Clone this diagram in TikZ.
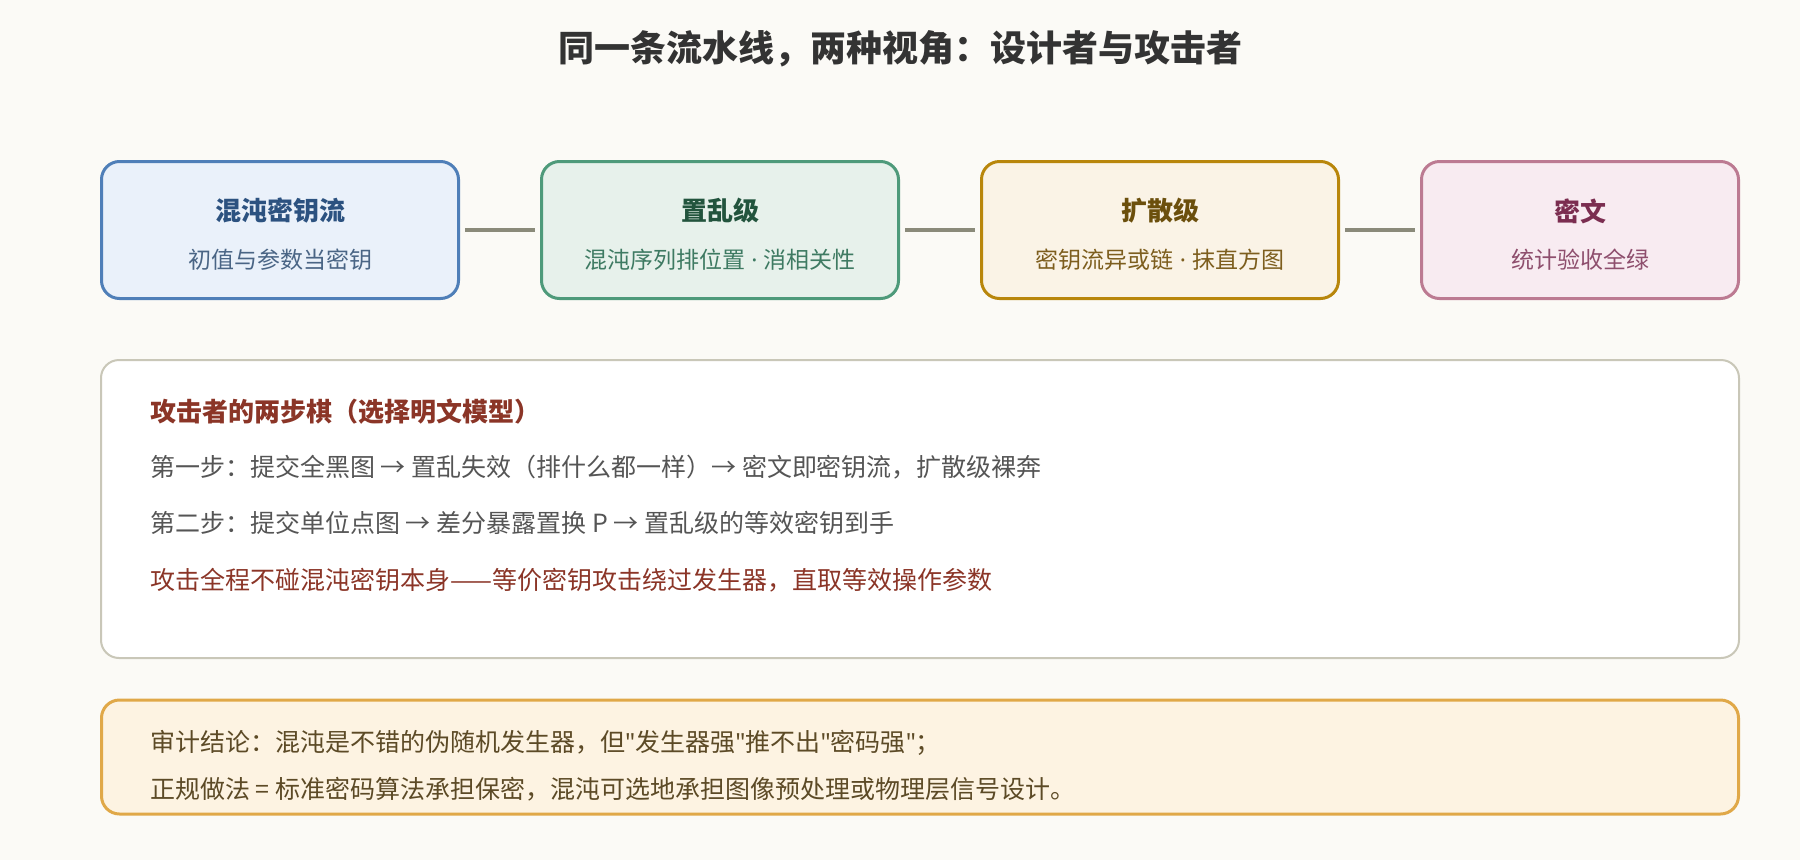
\documentclass[tikz,border=0pt]{standalone}
\usepackage{fontspec}
\setmainfont{Noto Sans CJK SC}[Ligatures=TeXOff]
\newfontfamily\latinfont{Noto Sans}[Ligatures=TeXOff]
\newcommand{\mdot}{{\latinfont\ ·\ }}
\definecolor{bg}{HTML}{FBFAF6}
\definecolor{titlegray}{HTML}{333333}
\definecolor{linkgray}{HTML}{8A8A7A}
\definecolor{keydraw}{HTML}{4F7FB8}
\definecolor{keyfill}{HTML}{EAF1FA}
\definecolor{keytitle}{HTML}{2C5280}
\definecolor{keysub}{HTML}{4A6585}
\definecolor{permdraw}{HTML}{4E9A7A}
\definecolor{permfill}{HTML}{E7F1EB}
\definecolor{permtitle}{HTML}{22543D}
\definecolor{permsub}{HTML}{3E7A62}
\definecolor{diffdraw}{HTML}{B8860B}
\definecolor{difffill}{HTML}{FAF3E6}
\definecolor{difftitle}{HTML}{6B4F0C}
\definecolor{diffsub}{HTML}{7D5E1E}
\definecolor{ciphdraw}{HTML}{BC7A92}
\definecolor{ciphfill}{HTML}{F8EBF1}
\definecolor{ciphtitle}{HTML}{7B2D50}
\definecolor{ciphsub}{HTML}{8E4E6D}
\definecolor{paneldraw}{HTML}{C9C7B8}
\definecolor{attackred}{HTML}{8B3527}
\definecolor{bodygray}{HTML}{555555}
\definecolor{notedraw}{HTML}{E0A848}
\definecolor{notefill}{HTML}{FDF3E2}
\definecolor{notetext}{HTML}{5C4A26}
\tikzset{
  stage/.style={draw, line width=3pt, rounded corners=18pt, minimum height=137pt, inner sep=0pt},
  stagetitle/.style={font=\fontsize{26}{30}\selectfont\bfseries, inner sep=0pt},
  stagesub/.style={font=\fontsize{23}{27}\selectfont, inner sep=0pt},
  link/.style={draw=linkgray, line width=4pt, shorten <=5pt, shorten >=5pt},
  panel/.style={draw, line width=2pt, rounded corners=18pt, inner sep=0pt},
  textline/.style={anchor=west, inner sep=0pt, font=\fontsize{25}{29}\selectfont},
}
\begin{document}
\begin{tikzpicture}[x=1pt, y=-1pt]
  \def\Yb{230} % boxes
  \def\Yt{211} % box titles
  \def\Ys{260} % box subtitles
  \def\Xl{150} % left edge of texts
  \fill[bg] (0,0) rectangle (1800,860);
  \useasboundingbox (0,0) rectangle (1800,860);

  % title
  \node[font=\fontsize{36}{40}\selectfont\bfseries, text=titlegray, inner sep=0pt] (title) at (900,49) {同一条流水线，两种视角：设计者与攻击者};

  % pipeline
  \node[stage, draw=keydraw, fill=keyfill, minimum width=357pt] (key) at (280,\Yb) {};
  \node[stage, draw=permdraw, fill=permfill, minimum width=357pt] (perm) at (720,\Yb) {};
  \node[stage, draw=diffdraw, fill=difffill, minimum width=357pt] (diff) at (1160,\Yb) {};
  \node[stage, draw=ciphdraw, fill=ciphfill, minimum width=317pt] (ciph) at (1580,\Yb) {};

  \node[stagetitle, text=keytitle] (keyT) at (280,\Yt) {混沌密钥流};
  \node[stagesub, text=keysub] (keyS) at (280,\Ys) {初值与参数当密钥};
  \node[stagetitle, text=permtitle] (permT) at (720,\Yt) {置乱级};
  \node[stagesub, text=permsub] (permS) at (720,\Ys) {混沌序列排位置\mdot 消相关性};
  \node[stagetitle, text=difftitle] (diffT) at (1160,\Yt) {扩散级};
  \node[stagesub, text=diffsub] (diffS) at (1160,\Ys) {密钥流异或链\mdot 抹直方图};
  \node[stagetitle, text=ciphtitle] (ciphT) at (1580,\Yt) {密文};
  \node[stagesub, text=ciphsub] (ciphS) at (1580,\Ys) {统计验收全绿};

  % links
  \draw[link] (key) -- (perm);
  \draw[link] (perm) -- (diff);
  \draw[link] (diff) -- (ciph);

  % attacker panel
  \node[panel, draw=paneldraw, fill=white, minimum width=1638pt, minimum height=298pt] (attack) at (920,509) {};
  \node[textline, text=attackred, font=\fontsize{26}{30}\selectfont\bfseries] (atkH) at (\Xl,412) {攻击者的两步棋（选择明文模型）};
  \node[textline, text=bodygray] (atkA) at (\Xl,467) {第一步：提交全黑图 → 置乱失效（排什么都一样）→ 密文即密钥流，扩散级裸奔};
  \node[textline, text=bodygray] (atkB) at (\Xl,523) {第二步：提交单位点图 → 差分暴露置换 P → 置乱级的等效密钥到手};
  \node[textline, text=attackred] (atkC) at (\Xl,580) {攻击全程不碰混沌密钥本身——等价密钥攻击绕过发生器，直取等效操作参数};

  % verdict
  \node[panel, line width=3pt, draw=notedraw, fill=notefill, minimum width=1637pt, minimum height=114pt] (note) at (920,757) {};
  \node[textline, text=notetext] (noteA) at (\Xl,743) {审计结论：混沌是不错的伪随机发生器，但{\latinfont "}发生器强{\latinfont "}推不出{\latinfont "}密码强{\latinfont "}；};
  \node[textline, text=notetext] (noteB) at (\Xl,789) {正规做法 = 标准密码算法承担保密，混沌可选地承担图像预处理或物理层信号设计。};
\end{tikzpicture}
\end{document}
